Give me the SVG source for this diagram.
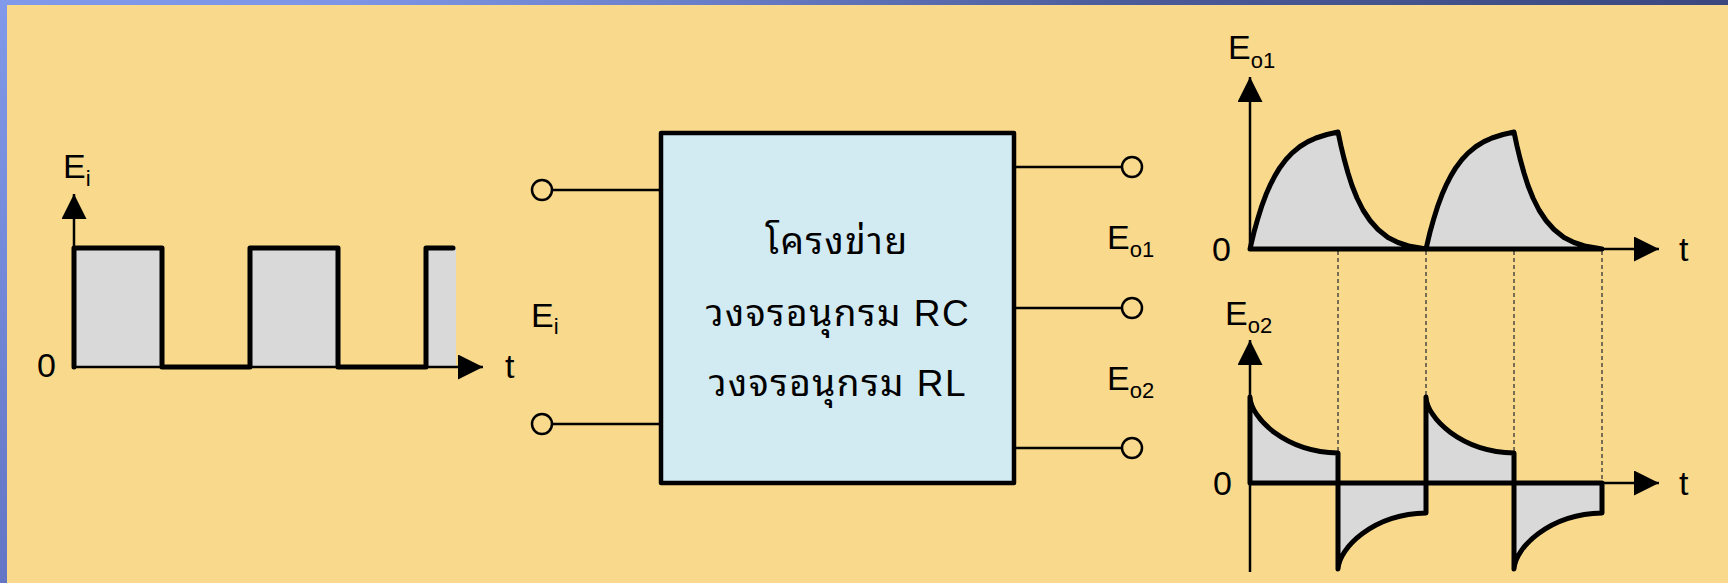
<svg xmlns="http://www.w3.org/2000/svg" width="1728" height="583" viewBox="0 0 1728 583">
  <defs>
    <linearGradient id="topBar" x1="0" y1="0" x2="1" y2="0">
      <stop offset="0" stop-color="#8199ea"/>
      <stop offset="0.2" stop-color="#7d95e4"/>
      <stop offset="0.4" stop-color="#6a7fc9"/>
      <stop offset="0.65" stop-color="#4c5b99"/>
      <stop offset="1" stop-color="#3b4880"/>
    </linearGradient>
    <linearGradient id="sideBar" x1="0" y1="0" x2="0" y2="1">
      <stop offset="0" stop-color="#8199ea"/>
      <stop offset="1" stop-color="#6375c4"/>
    </linearGradient>
    <marker id="arrow" markerUnits="userSpaceOnUse" markerWidth="26" markerHeight="26" refX="25" refY="12.5" orient="auto">
      <path d="M0,0 L25,12.5 L0,25 Z" fill="#000"/>
    </marker>
    <style>
      .axis { fill: none; stroke: #000; stroke-width: 2.5; }
      .wave { fill: none; stroke: #000; stroke-width: 5; stroke-linejoin: round; stroke-linecap: round; }
      .area { fill: #d9d9d9; stroke: none; }
      .wire { fill: none; stroke: #000; stroke-width: 2.5; }
      .term { fill: #f9d98c; stroke: #000; stroke-width: 2.5; }
      .guide { fill: none; stroke: #333; stroke-width: 1.3; stroke-dasharray: 4 3; }
      .lbl { font-family: "Liberation Sans", Arial, sans-serif; font-size: 34px; fill: #000; }
      .sub { font-size: 22px; }
      .thai { font-family: "Liberation Sans", "Noto Sans Thai Looped", "Noto Sans Thai", "DejaVu Sans", sans-serif; font-size: 37px; letter-spacing: 1.5px; fill: #000; text-anchor: middle; }
    </style>
  </defs>

  <!-- page background and frame -->
  <rect x="0" y="0" width="1728" height="583" fill="#f9d98c"/>
  <rect x="0" y="0" width="1728" height="5" fill="url(#topBar)"/>
  <rect x="0" y="0" width="7" height="583" fill="url(#sideBar)"/>

  <!-- input square wave -->
  <g id="input-wave">
    <rect class="area" x="74" y="248" width="88" height="119"/>
    <rect class="area" x="250" y="248" width="88" height="119"/>
    <rect class="area" x="426" y="248" width="30" height="119"/>
    <line class="axis" x1="74" y1="367" x2="74" y2="194" marker-end="url(#arrow)"/>
    <line class="axis" x1="74" y1="367" x2="483" y2="367" marker-end="url(#arrow)"/>
    <path class="wave" d="M74,367 L74,248 L162,248 L162,367 L250,367 L250,248 L338,248 L338,367 L426,367 L426,248 L453,248"/>
    <text class="lbl" x="63" y="178">E<tspan class="sub" dy="8">i</tspan></text>
    <text class="lbl" x="37" y="377">0</text>
    <text class="lbl" x="505" y="378">t</text>
  </g>

  <!-- connecting wires and terminals -->
  <g id="connectors">
    <line class="wire" x1="552" y1="190" x2="660" y2="190"/>
    <line class="wire" x1="552" y1="424" x2="660" y2="424"/>
    <line class="wire" x1="1014" y1="167" x2="1122" y2="167"/>
    <line class="wire" x1="1014" y1="308" x2="1122" y2="308"/>
    <line class="wire" x1="1014" y1="448" x2="1122" y2="448"/>
    <circle class="term" cx="542" cy="190" r="10"/>
    <circle class="term" cx="542" cy="424" r="10"/>
    <circle class="term" cx="1132" cy="167" r="10"/>
    <circle class="term" cx="1132" cy="308" r="10"/>
    <circle class="term" cx="1132" cy="448" r="10"/>
  </g>

  <!-- network block -->
  <g id="network">
    <rect x="661" y="133" width="353" height="350" fill="#d2eaf1" stroke="#000" stroke-width="4.5" stroke-linejoin="round"/>
    <text class="thai" x="837" y="254">โครงข่าย</text>
    <text class="thai" x="838" y="326">วงจรอนุกรม RC</text>
    <text class="thai" x="838" y="396">วงจรอนุกรม RL</text>
  </g>

  <!-- terminal labels -->
  <g id="port-labels">
    <text class="lbl" x="531" y="327">E<tspan class="sub" dy="7">i</tspan></text>
    <text class="lbl" x="1107" y="249">E<tspan class="sub" dy="8">o1</tspan></text>
    <text class="lbl" x="1107" y="390">E<tspan class="sub" dy="8">o2</tspan></text>
  </g>

  <!-- vertical timing guides -->
  <g id="guides">
    <line class="guide" x1="1338" y1="251" x2="1338" y2="453"/>
    <line class="guide" x1="1426" y1="251" x2="1426" y2="397"/>
    <line class="guide" x1="1514" y1="251" x2="1514" y2="453"/>
    <line class="guide" x1="1602" y1="251" x2="1602" y2="483"/>
  </g>

  <!-- integrator output Eo1 -->
  <g id="output-eo1">
    <line class="axis" x1="1250" y1="249" x2="1250" y2="77" marker-end="url(#arrow)"/>
    <line class="axis" x1="1250" y1="249" x2="1659" y2="249" marker-end="url(#arrow)"/>
    <path class="area" d="M1250,249 L1254,232.2 L1258,217.9 L1262,205.3 L1266,194.6 L1270,185.4 L1275,175.6 L1280,167.4 L1286,159.5 L1292,153.1 L1300,146.5 L1308,141.6 L1316,138 L1327,134.5 L1338,132 L1341,146 L1344,158.5 L1348,173 L1352,185.5 L1357,198 L1363,210 L1370,220.5 L1378,229.5 L1388,237.5 L1398,242.5 L1410,246.3 L1426,249 Z M1426,249 L1430,232.2 L1434,217.9 L1438,205.3 L1442,194.6 L1446,185.4 L1451,175.6 L1456,167.4 L1462,159.5 L1468,153.1 L1476,146.5 L1484,141.6 L1492,138 L1503,134.5 L1514,132 L1517,146 L1520,158.5 L1524,173 L1528,185.5 L1533,198 L1539,210 L1546,220.5 L1554,229.5 L1564,237.5 L1574,242.5 L1586,246.3 L1602,249 Z"/>
    <path class="wave" d="M1250,249 L1254,232.2 L1258,217.9 L1262,205.3 L1266,194.6 L1270,185.4 L1275,175.6 L1280,167.4 L1286,159.5 L1292,153.1 L1300,146.5 L1308,141.6 L1316,138 L1327,134.5 L1338,132 L1341,146 L1344,158.5 L1348,173 L1352,185.5 L1357,198 L1363,210 L1370,220.5 L1378,229.5 L1388,237.5 L1398,242.5 L1410,246.3 L1426,249 L1430,232.2 L1434,217.9 L1438,205.3 L1442,194.6 L1446,185.4 L1451,175.6 L1456,167.4 L1462,159.5 L1468,153.1 L1476,146.5 L1484,141.6 L1492,138 L1503,134.5 L1514,132 L1517,146 L1520,158.5 L1524,173 L1528,185.5 L1533,198 L1539,210 L1546,220.5 L1554,229.5 L1564,237.5 L1574,242.5 L1586,246.3 L1602,249 L1250,249 Z"/>
    <text class="lbl" x="1228" y="59">E<tspan class="sub" dy="9">o1</tspan></text>
    <text class="lbl" x="1212" y="261">0</text>
    <text class="lbl" x="1679" y="261">t</text>
  </g>

  <!-- differentiator output Eo2 -->
  <g id="output-eo2">
    <line class="axis" x1="1250" y1="572" x2="1250" y2="340" marker-end="url(#arrow)"/>
    <line class="axis" x1="1250" y1="483" x2="1659" y2="483" marker-end="url(#arrow)"/>
    <path class="area" d="M1250,483 L1250,397 C1251,418 1285,452 1338,453 L1338,483 Z M1338,483 L1338,569 C1339,548 1373,514 1426,513 L1426,483 Z M1426,483 L1426,397 C1427,418 1461,452 1514,453 L1514,483 Z M1514,483 L1514,569 C1515,548 1549,514 1602,513 L1602,483 Z"/>
    <path class="wave" d="M1250,483 L1250,397 C1251,418 1285,452 1338,453 L1338,569 C1339,548 1373,514 1426,513 L1426,397 C1427,418 1461,452 1514,453 L1514,569 C1515,548 1549,514 1602,513 L1602,483 L1250,483"/>
    <text class="lbl" x="1225" y="325">E<tspan class="sub" dy="8">o2</tspan></text>
    <text class="lbl" x="1213" y="495">0</text>
    <text class="lbl" x="1679" y="495">t</text>
  </g>
</svg>
